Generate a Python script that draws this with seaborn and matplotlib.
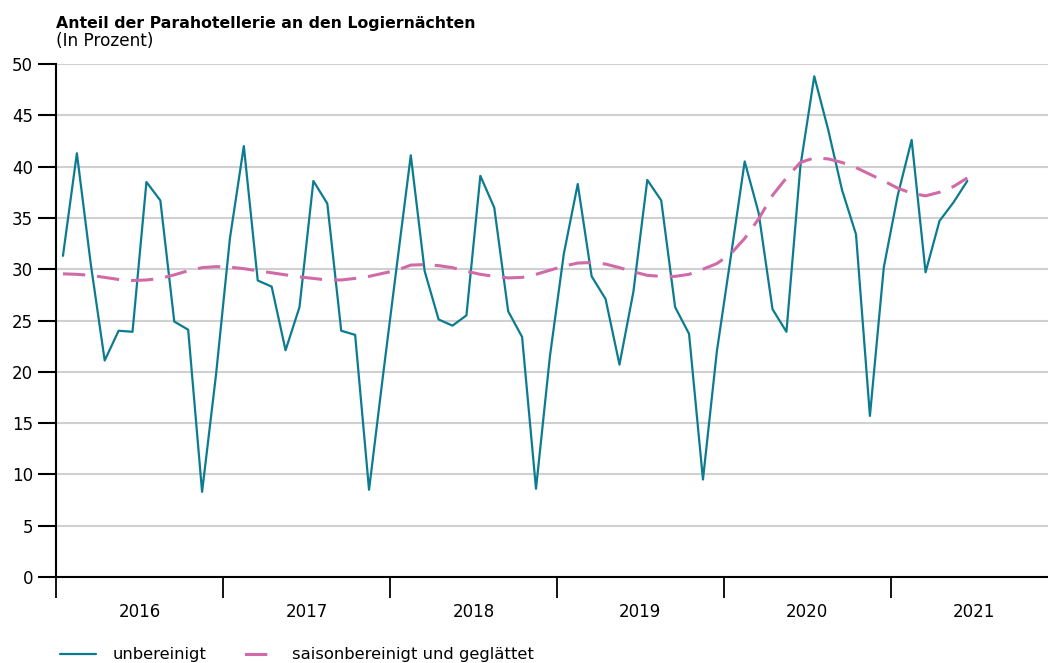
"""Anteil der Parahotellerie an den Logiernächten, monthly 2016-2021."""
import matplotlib.pyplot as plt
import numpy as np
import pandas as pd
import seaborn as sns
from matplotlib.lines import Line2D

# monthly values, Jan 2016 .. Jun 2021
unbereinigt = [
    31.3, 41.3, 30.5, 21.1, 24.0, 23.9, 38.5, 36.7, 24.9, 24.1, 8.3, 19.7,
    33.0, 42.0, 28.9, 28.3, 22.1, 26.3, 38.6, 36.4, 24.0, 23.6, 8.5, 19.6,
    30.4, 41.1, 29.8, 25.1, 24.5, 25.5, 39.1, 36.0, 25.9, 23.4, 8.6, 21.5,
    31.5, 38.3, 29.3, 27.1, 20.7, 27.8, 38.7, 36.7, 26.3, 23.7, 9.5, 22.0,
    31.2, 40.5, 35.5, 26.1, 23.9, 40.0, 48.8, 43.6, 37.7, 33.4, 15.7, 30.2,
    37.2, 42.6, 29.7, 34.7, 36.5, 38.6,
]
saisonbereinigt = [
    29.55, 29.5, 29.4, 29.2, 29.0, 28.9, 28.95, 29.1, 29.45, 29.85, 30.15, 30.25,
    30.2, 30.05, 29.85, 29.65, 29.45, 29.25, 29.1, 28.95, 28.95, 29.1, 29.3, 29.6,
    29.9, 30.4, 30.45, 30.35, 30.15, 29.8, 29.5, 29.3, 29.15, 29.2, 29.5, 29.9,
    30.3, 30.6, 30.65, 30.5, 30.15, 29.75, 29.4, 29.3, 29.3, 29.5, 30.0, 30.55,
    31.5, 33.0, 34.9, 37.2, 38.9, 40.4, 40.85, 40.75, 40.4, 39.9, 39.25, 38.6,
    37.9, 37.4, 37.15, 37.5, 38.05, 38.9,
]
years = ["2016", "2017", "2018", "2019", "2020", "2021"]

teal = "#0b7c90"
pink = "#d06aa9"

df = pd.DataFrame({
    "monat": np.arange(len(unbereinigt)) + 0.5,
    "unbereinigt": unbereinigt,
    "saisonbereinigt": saisonbereinigt,
})

sns.set_style("white")
plt.rcParams["font.family"] = ["DejaVu Sans"]
plt.rcParams["text.color"] = "black"
plt.rcParams["xtick.color"] = "black"
plt.rcParams["ytick.color"] = "black"

fig = plt.figure(figsize=(10.48, 6.63), dpi=100)
ax = fig.add_axes([56 / 1048, 1 - 577 / 663, (1048 - 56) / 1048, (577 - 64) / 663])

sns.lineplot(data=df, x="monat", y="unbereinigt", ax=ax, color=teal,
             linewidth=1.6)
sns.lineplot(data=df, x="monat", y="saisonbereinigt", ax=ax, color=pink,
             linewidth=2.2)
ax.lines[1].set_dashes([7.3, 3.9])

ax.set_xlim(0, 71.3)
ax.set_ylim(0, 50)
ax.set_xlabel("")
ax.set_ylabel("")

ax.set_yticks(range(0, 51, 5))
ax.yaxis.grid(True, color="#d0d0d0", linewidth=1.5)
ax.set_axisbelow(True)

ax.set_xticks(np.arange(0, 72, 12))
ax.set_xticklabels([])
ax.set_xticks(np.arange(6, 72, 12), minor=True)
ax.set_xticklabels(years, minor=True)
ax.tick_params(axis="x", which="major", bottom=True, length=15, width=1.3)
ax.tick_params(axis="x", which="minor", bottom=True, length=0, pad=18.5, labelsize=12)
ax.tick_params(axis="y", left=True, length=13, width=1.5, pad=3.5, labelsize=12)

for side in ["top", "right"]:
    ax.spines[side].set_visible(False)
for side in ["left", "bottom"]:
    ax.spines[side].set_color("black")
    ax.spines[side].set_linewidth(1.5)

handles = [
    Line2D([], [], color=teal, linewidth=1.6),
    Line2D([], [], color=pink, linewidth=2.2, linestyle=(9.2, (7.3, 3.7))),
]
labels = ["unbereinigt", "saisonbereinigt und geglättet"]
fig.legend(handles, labels, loc="center left", bbox_to_anchor=(60 / 1048, 1 - 655 / 663),
           ncol=2, frameon=False, fontsize=11.8, handlelength=2.2, handletextpad=1.0,
           columnspacing=2.0, borderpad=0, borderaxespad=0)

fig.text(56 / 1048, 1 - 28 / 663, "Anteil der Parahotellerie an den Logiernächten",
         fontsize=11.3, fontweight="bold", va="baseline", ha="left")
fig.text(56 / 1048, 1 - 46 / 663, "(In Prozent)", fontsize=12.2, va="baseline", ha="left")

plt.savefig("out.png", dpi=100)
